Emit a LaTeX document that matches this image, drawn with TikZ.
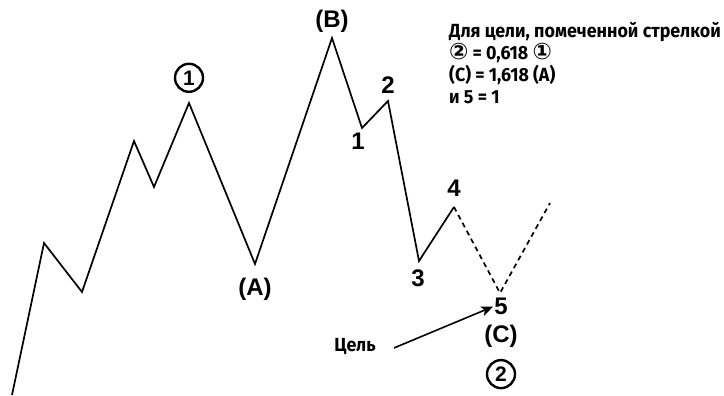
\documentclass[tikz,border=0pt]{standalone}
\usepackage{fontspec}
\setmainfont{Liberation Sans}
\newfontfamily\notefont[FakeStretch=0.94]{Fira Sans}
\newfontfamily\symfont[Scale=1.2]{DejaVu Sans}
\usetikzlibrary{positioning,arrows.meta}

\begin{document}
\begin{tikzpicture}[x=1pt,y=-1pt,
  wave/.style={line width=1.7pt, line join=miter},
  lbl/.style={font=\fontsize{24}{26}\selectfont\bfseries, inner sep=1pt},
  circnum/.style={draw, circle, line width=2.4pt, minimum size=28pt, inner sep=0pt,
                  font=\fontsize{21}{22}\selectfont\bfseries},
  note/.style={font=\notefont\bfseries\fontsize{19}{22}\selectfont, inner sep=0pt}]

\useasboundingbox (0,0) rectangle (724,396);

\coordinate (s)  at (12,395);
\coordinate (w1) at (44,243);
\coordinate (w2) at (82,292);
\coordinate (w3) at (134,141);
\coordinate (w4) at (154,187);
\coordinate (w5) at (189,103);
\coordinate (a)  at (255,264);
\coordinate (b)  at (332,38);
\coordinate (c1) at (362,128);
\coordinate (c2) at (388,101);
\coordinate (c3) at (419,261);
\coordinate (c4) at (454,207);
\coordinate (c5) at (500,293);
\coordinate (e)  at (550,203);

\draw[wave] (s) -- (w1) -- (w2) -- (w3) -- (w4) -- (w5) -- (a) -- (b)
  -- (c1) -- (c2) -- (c3) -- (c4);
\draw[wave, dash pattern=on 5pt off 4pt] (c4) -- (c5) -- (e);

\node[circnum, above=10pt of w5] (n1) {1};
\node[lbl, below=13pt of a] (la) {(A)};
\node[lbl, above=4pt of b] (lb) {(B)};
\node[lbl, below=4pt of c1, xshift=-4pt] (l1) {1};
\node[lbl, above=6pt of c2] (l2) {2};
\node[lbl, below=8pt of c3, xshift=-1pt] (l3) {3};
\node[lbl, above=9pt of c4] (l4) {4};
\node[lbl, below=4pt of c5, xshift=1pt] (l5) {5};
\node[lbl, below=8pt of l5] (lc) {(C)};
\node[circnum, below=10pt of lc] (n2) {2};

\node[note] (goal) at (355,346) {Цель};
\draw[line width=1.6pt, -{Stealth[length=12pt,width=10pt,inset=3pt]}]
  (goal.east) ++(18pt,-2pt) coordinate (g0) (g0) -- (l5.west);

\node[note, anchor=north west, align=left] (txt) at (449,22)
  {Для цели, помеченной стрелкой\\
   {\symfont ②} = 0,618 {\symfont ①}\\
   (C) = 1,618 (A)\\
   и 5 = 1};
\end{tikzpicture}
\end{document}
